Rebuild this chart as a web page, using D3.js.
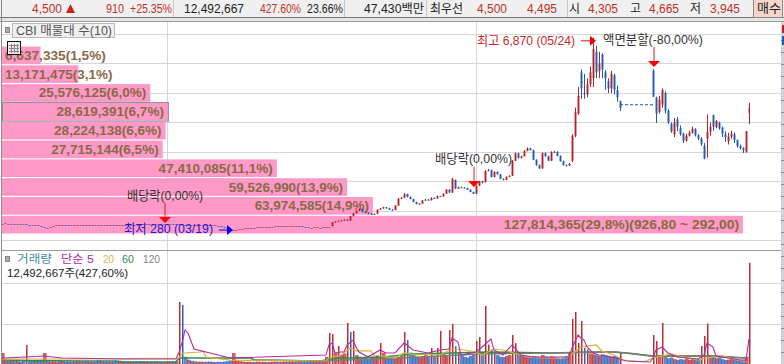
<!DOCTYPE html>
<html>
<head>
<meta charset="utf-8">
<script src="https://cdn.jsdelivr.net/npm/d3@7"></script>
<style>
  html, body { margin: 0; padding: 0; background: #fff; overflow: hidden; }
  text { font-family: "Liberation Sans", "Noto Sans CJK KR", sans-serif; font-size: 12.5px; }
</style>
</head>
<body>
<div id="chart"></div>
<script>
// bar data, one slot every bar, nulls where trading was halted for the split
const barOpen = [
  565,570,575,565,570,560,565,555,545,540, 530,525,530,510,480,440,420,450,490,530,
  525,535,530,525,530,520,530,535,525,530, 525,535,530,520,530,525,515,525,520,515,
  525,530,510,520,530,525,535,530,545,550, 540,545,540,550,535,540,545,560,550,555,
  545,540,530,535,525,530,520,525,535,530, 520,525,515,490,470,450,430,390,340,345,
  370,390,410,420,430,425,440,445,450,445, 460,465,475,470,480,490,480,495,500,490,
  495,480,460,445,430,435,440,430,440,445, 480,610,640,660,680,700,670,820,920,1000,
  1060,960,930,900,880,900,1040,1080,1120,1090, 1040,1030,1180,1410,1440,1570,1470,1400,1300,1230,
  1240,1350,1380,1360,1440,1420,1500,1490,1580,1720, 1620,2050,1750,1800,1790,1770,1720,1640,1580,1850,
  2000,1980,2350,2380,2150,2320,2240,2080,2050,2150, 2190,2700,2950,2790,2850,3030,3120,3060,2730,2550,
  2440,2960,2850,2700,3000,3000,2860,2680,2550,2530, 2700,3550,4300,5700,5000,4950,5300,5500,6400,5750,
  6300,5700,5400,5150,5600,5100,4730,null,null,null, null,null,null,null,null,null,null,5750,4850,4350,
  4600,5000,4400,3950,3600,4100,3800,3620,3380,3550, 3650,3780,3560,3450,3210,3445,3680,4250,3850,4000,
  3820,3600,3360,3520,3600,3400,3200,3130,3000,4305
];
const barClose = [
  570,575,565,570,560,565,555,545,540,530, 525,530,510,480,440,420,450,490,530,525,
  535,530,525,530,520,530,535,525,530,525, 535,530,520,530,525,515,525,520,515,525,
  530,510,520,530,525,535,530,545,550,540, 545,540,550,535,540,545,560,550,555,545,
  540,530,535,525,530,520,525,535,530,520, 525,515,490,470,450,430,390,340,345,370,
  390,410,420,430,425,440,445,450,445,460, 465,475,470,480,490,480,495,500,490,495,
  480,460,445,430,435,440,430,440,445,455, 610,640,660,680,700,670,820,920,1000,1060,
  960,930,900,880,900,1040,1080,1120,1090,1040, 1030,1180,1410,1440,1570,1470,1400,1300,1230,1240,
  1350,1380,1360,1440,1420,1500,1490,1580,1720,1620, 2080,1750,1800,1790,1770,1720,1640,1580,1850,2000,
  1950,2350,2380,2150,2320,2240,2080,2050,2150,2190, 2700,2950,2790,2850,3030,3120,3060,2730,2550,2440,
  2960,2850,2700,3000,3000,2860,2680,2550,2530,2600, 3550,4350,4900,5150,4950,5300,5700,6500,5700,6000,
  5800,5500,5150,5650,5100,4850,4500,null,null,null, null,null,null,null,null,null,null,4870,4300,4780,
  5100,4400,4000,3700,4000,3850,3600,3380,3550,3650, 3780,3560,3450,3280,2770,3680,3850,3850,4050,3800,
  3620,3500,3520,3620,3400,3200,3130,3050,3700,4500
];
const barHigh = [
  580,585,585,580,580,575,575,565,555,545, 540,540,535,515,485,445,455,495,535,535,
  545,540,535,535,535,535,540,540,535,535, 540,540,535,535,535,530,530,530,525,530,
  535,535,525,535,535,540,540,550,555,555, 550,550,555,555,545,550,565,565,560,560,
  550,545,540,540,535,535,530,540,540,535, 530,530,520,495,475,455,435,395,350,375,
  395,415,425,435,435,445,450,455,455,465, 470,480,480,485,495,495,500,505,505,500,
  500,485,465,450,440,445,445,445,450,460, 620,650,670,690,710,710,830,930,1020,1080,
  1070,980,950,920,910,1050,1100,1140,1130,1100, 1060,1200,1440,1470,1600,1580,1490,1410,1310,1260,
  1370,1400,1400,1460,1450,1520,1510,1600,1740,1730, 2120,2060,1820,1820,1800,1780,1730,1650,1870,2020,
  2020,2380,2420,2400,2340,2340,2250,2100,2170,2210, 2720,2980,2970,2870,3060,3150,3140,3070,2750,2570,
  2980,2980,2870,3020,3040,3020,2880,2700,2570,2620, 3600,4500,5200,5800,5650,5500,5900,6870,6600,6400,
  6350,5780,5500,5750,5650,5250,4730,null,null,null, null,null,null,null,null,null,null,5820,4870,4900,
  5150,5050,4450,4000,4150,4180,3900,3650,3620,3720, 3860,3800,3600,3500,3300,4280,4000,4260,4080,4020,
  3860,3700,3650,3720,3660,3420,3250,3160,3716,4665
];
const barLow = [
  555,560,555,560,550,555,550,540,535,525, 520,520,505,475,435,410,415,445,485,520,
  520,525,520,520,515,515,525,520,520,520, 520,525,515,515,520,510,510,515,510,510,
  520,505,505,515,520,520,525,525,540,535, 535,535,535,530,530,535,540,545,545,540,
  535,525,525,520,520,515,515,520,525,515, 515,510,485,465,445,425,385,280,335,340,
  365,385,405,415,420,420,435,440,440,440, 455,460,465,465,475,475,475,490,485,485,
  475,455,440,425,425,430,425,425,435,440, 475,600,630,650,670,660,660,810,910,990,
  950,920,890,870,870,890,1030,1070,1080,1030, 1020,1020,1170,1400,1430,1460,1390,1290,1220,1220,
  1230,1340,1350,1350,1410,1410,1480,1480,1570,1610, 1600,1740,1740,1780,1760,1710,1630,1570,1570,1840,
  1930,1960,2340,2130,2140,2230,2070,2030,2040,2140, 2180,2690,2780,2780,2840,3020,3050,2720,2530,2420,
  2430,2840,2690,2690,2980,2850,2670,2540,2510,2520, 2650,3500,4250,4800,4800,4850,5200,5200,5500,5500,
  5500,5100,5000,5000,4950,4700,4390,null,null,null, null,null,null,null,null,null,null,4870,3980,4300,
  4500,4300,3950,3650,3500,3700,3550,3300,3350,3520, 3620,3520,3400,3200,2750,2800,3550,3720,3800,3750,
  3500,3340,3250,3450,3300,3150,3080,2960,2970,3945
];
// volume in thousands of shares
const barVolume = [
  1360,420,380,500,350,420,300,380,2350,400, 450,380,420,520,1360,400,300,350,280,420,
  350,280,300,260,320,380,300,280,340,300, 260,300,420,350,300,280,260,320,380,300,
  280,250,330,300,260,280,340,300,260,240, 260,280,240,220,250,260,280,300,350,7660,
  7290,900,520,400,320,280,300,260,280,300, 260,240,280,260,300,350,420,1360,450,350,
  300,260,280,240,260,300,250,280,240,260, 280,300,260,240,280,250,300,260,280,320,
  280,260,300,340,320,380,420,500,900,3830, 3700,1400,2220,1100,1300,5060,3950,4080,1100,900,
  700,850,600,750,900,1000,2590,1400,800,700, 850,750,900,1000,3950,2960,1400,1100,900,800,
  950,1100,850,1980,1000,1980,4080,1300,1100,4200, 4940,2200,1500,1100,900,800,1000,1200,2840,3330,
  1300,7160,2400,1800,1500,1100,900,850,1000,1100, 3580,2590,1400,1100,950,850,800,1000,900,850,
  1100,900,800,950,850,700,650,800,1000,1400, 5560,6420,2600,5310,2000,1800,1300,1200,1100,1000,
  1200,1100,1000,900,1000,850,1480,0,0,0, 0,0,0,0,0,0,0,3580,2840,1000,
  5060,900,700,800,600,500,600,550,700,500, 600,500,650,2220,3460,5000,1100,900,700,800,
  600,500,550,600,500,450,520,480,900,12493
];
// volume spikes whose colour reads differently from the candle above them
const volumeRedBars = [0,8,14,59,77,109,112,115,117,126,134,143,145,146,149,150,158,159,161,170,171,190,191,193,206,217,218,220,233,234,235,249];
const volumeBlueBars = [60,116,135];

// moving averages, read at their turning points
const ma5Bars = [0,8,14,20,40,58,59,60,61,62,64,76,108,109,110,111,113,114,115,117,118,119,122,126,128,131,134,135,137,142,146,149,150,152,153,158,160,163,164,167,170,173,177,185,189,190,192,193,194,195,197,199,205,208,216,217,218,220,222,225,232,234,235,237,238,246,248,249];
const ma5Vals = [740,860,990,740,620,620,1480,2590,4200,3830,1850,740,1110,2350,2590,1360,1480,1480,2350,2960,2100,1480,860,1730,1360,1360,2590,2350,1730,1360,1730,1850,3210,2720,1110,1480,2100,3090,1730,1110,2350,1110,860,860,860,1980,3580,3210,2960,2100,1360,1110,740,370,250,740,1730,2100,1360,860,620,1110,2590,2100,990,490,490,3090];
const ma20Bars = [0,26,59,60,61,66,67,68,76,108,109,113,116,118,123,124,131,134,138,142,146,150,154,158,160,164,167,173,178,188,190,193,198,200,204,207,214,217,220,223,226,232,235,240,244,248];
const ma20Vals = [620,620,740,1235,1360,1480,1610,860,490,370,740,1110,1980,1610,1610,1110,740,1360,1110,1235,1110,1850,1730,1480,1110,1850,1730,1110,740,740,1235,2100,2350,1610,1110,490,250,740,990,1235,990,490,740,990,620,250];
const ma60Bars = [0,8,26,38,41,58,59,83,84,106,112,116,127,137,150,162,183,196,203,210,217,233,238,245,248];
const ma60Vals = [490,430,370,370,250,250,740,740,490,370,740,740,860,1235,1360,1480,1360,1480,1480,1300,990,990,990,800,740];
const ma120Bars = [83,106,133,159,183,205,216,233,248];
const ma120Vals = [490,370,740,1235,1360,1480,990,990,740];

// volume profile rows, bottom row first
const profileVolume = [127814365, 63974585, 59526990, 47410085, 27715144, 28224138, 28619391, 25576125, 13171475, 6637335];
const profileLabels = ["127,814,365(29,8%)(926,80 ~ 292,00)", "63,974,585(14,9%)", "59,526,990(13,9%)", "47,410,085(11,1%)", "27,715,144(6,5%)", "28,224,138(6,6%)", "28,619,391(6,7%)", "25,576,125(6,0%)", "13,171,475(3,1%)", "6,637,335(1,5%)"];
const selectedRow = 6;

const priceTicks = [1000, 2000, 3000, 4000, 5000, 6000, 7000];
const volumeTicks = [5000, 10000];
const gridBars = [55, 158];
const splitPrice = 4600;
const highPrice = 6870;
const lowPrice = 280;

const red = "#b5242a";
const blue = "#1f5ab5";
const grid = "#d6d6d6";

const svg = d3.select("#chart").append("svg")
  .attr("width", 784)
  .attr("height", 364)
  .style("display", "block");

const x = d3.scaleLinear().domain([0, 249]).range([2, 749]);
const yPrice = d3.scaleLinear().domain([0, 7000]).range([240.3, 34]);
const yVolume = d3.scaleLinear().domain([0, 15000]).range([364, 242.5]);
const xProfile = d3.scaleLinear().domain([0, d3.max(profileVolume)]).range([2, 743]);
const rowBand = d3.scaleBand().domain(d3.range(10)).range([233.5, 46.5]).paddingInner(0.06);

function label(g, px, py, str, color, width, opts) {
  opts = opts || {};
  const t = g.append("text")
    .attr("x", px)
    .attr("y", py)
    .attr("fill", color)
    .attr("text-anchor", opts.anchor || "start")
    .style("font-size", (opts.size || 12.5) + "px")
    .style("font-weight", opts.bold ? "bold" : "normal")
    .text(str);
  if (width) t.attr("textLength", width).attr("lengthAdjust", "spacingAndGlyphs");
  return t;
}

// grid
const gridG = svg.append("g");
gridG.selectAll(".h").data(priceTicks.concat([0])).enter().append("line")
  .attr("x1", 2).attr("x2", 781)
  .attr("y1", d => Math.round(yPrice(d)) + 0.5)
  .attr("y2", d => Math.round(yPrice(d)) + 0.5)
  .attr("stroke", grid);
gridG.selectAll(".v").data(volumeTicks).enter().append("line")
  .attr("x1", 2).attr("x2", 781)
  .attr("y1", d => Math.round(yVolume(d)) + 0.5)
  .attr("y2", d => Math.round(yVolume(d)) + 0.5)
  .attr("stroke", grid);
gridG.selectAll(".b").data(gridBars).enter().append("line")
  .attr("x1", d => Math.round(x(d)) + 0.5)
  .attr("x2", d => Math.round(x(d)) + 0.5)
  .attr("y1", 22).attr("y2", 364)
  .attr("stroke", grid);

// volume profile
svg.append("g").selectAll("rect").data(profileVolume).enter().append("rect")
  .attr("x", 2)
  .attr("y", (d, i) => rowBand(i))
  .attr("width", d => xProfile(d) - 2)
  .attr("height", rowBand.bandwidth())
  .attr("fill", "#fe99c8");
const sel = profileVolume[selectedRow];
svg.append("rect")
  .attr("x", 2.5)
  .attr("y", rowBand(selectedRow) - 0.5)
  .attr("width", xProfile(sel) - 2)
  .attr("height", rowBand.bandwidth() + 1)
  .attr("fill", "none")
  .attr("stroke", "#8c8c8c");

const profG = svg.append("g");
profileVolume.forEach((d, i) => {
  const w = profileLabels[i].length * 6.72;
  const end = xProfile(d) - 4;
  const start = Math.max(5, end - w);
  label(profG, start, rowBand(i) + rowBand.bandwidth() / 2 + 4.5, profileLabels[i], "#8a6a44", w, { bold: true, size: 13 });
});

// candles
const bars = d3.range(barClose.length).filter(i => barClose[i] !== null);
const barColor = i => barClose[i] >= barOpen[i] ? red : blue;
const candles = svg.append("g");
candles.selectAll(".wick").data(bars.filter(i => i >= 110)).enter().append("line")
  .attr("x1", i => x(i) + 0.5).attr("x2", i => x(i) + 0.5)
  .attr("y1", i => yPrice(barHigh[i]))
  .attr("y2", i => yPrice(barLow[i]))
  .attr("stroke", barColor);
candles.selectAll(".body").data(bars).enter().append("rect")
  .attr("x", i => x(i) - 0.5)
  .attr("width", i => i === 249 ? 1 : 2)
  .attr("y", i => i < 110 ? Math.round(yPrice(barClose[i])) : yPrice(Math.max(barOpen[i], barClose[i])))
  .attr("height", i => i < 110 ? 1 : Math.max(1, Math.abs(yPrice(barOpen[i]) - yPrice(barClose[i]))))
  .attr("fill", i => i < 110 && barClose[i] >= barOpen[i] ? "#b03040" : barColor(i))
  .attr("fill-opacity", i => i < 110 ? 0.8 : 0.9);

// split gap
candles.append("line")
  .attr("x1", x(206)).attr("x2", x(217))
  .attr("y1", yPrice(splitPrice)).attr("y2", yPrice(splitPrice))
  .attr("stroke", blue)
  .attr("stroke-dasharray", "3,2");

// annotations
function downArrow(g, px, yTop, yTip) {
  g.append("line").attr("x1", px).attr("x2", px).attr("y1", yTop).attr("y2", yTip - 5).attr("stroke", "#d02020");
  g.append("path").attr("d", d3.line()([[px - 6, yTip - 6], [px + 6, yTip - 6], [px, yTip]])).attr("fill", "#f00");
}
function rightArrow(g, x0, x1, py, color) {
  g.append("line").attr("x1", x0).attr("x2", x1 - 5).attr("y1", py).attr("y2", py).attr("stroke", color);
  g.append("path").attr("d", d3.line()([[x1 - 6, py - 5], [x1 - 6, py + 5], [x1, py]])).attr("fill", color);
}
const ann = svg.append("g");
label(ann, 477, yPrice(highPrice) + 7, "최고 6,870 (05/24)", "#c82828", 98, { size: 13 });
rightArrow(ann, 581, x(197) + 3, yPrice(highPrice) + 3, "#f00000");
label(ann, 603, 44, "액면분할(-80,00%)", "#333", 100, { size: 13 });
downArrow(ann, x(217) + 1, 47, 67);
label(ann, 127, 199.5, "배당락(0,00%)", "#333", 76, { size: 13 });
downArrow(ann, x(54) + 1, 203, 223);
label(ann, 435, 163, "배당락(0,00%)", "#333", 77, { size: 13 });
downArrow(ann, x(157) + 1, 167, 187);
label(ann, 124, 233, "최저 280 (03/19)", "#1a1ad0", 89, { size: 13 });
rightArrow(ann, 219, x(77), yPrice(lowPrice) - 2, "#0000f0");

// volume bars, spikes last so they stay on top
const volColor = i => volumeRedBars.includes(i) ? red : volumeBlueBars.includes(i) ? blue : barColor(i);
const volBars = d3.range(barVolume.length).filter(i => barVolume[i] > 0)
  .sort((a, b) => d3.ascending(barVolume[a] > 1400, barVolume[b] > 1400));
svg.append("g").selectAll("rect").data(volBars).enter().append("rect")
  .attr("x", i => barVolume[i] > 1400 ? x(i) : x(i) - 1)
  .attr("width", i => barVolume[i] > 1400 ? 1.5 : 3.6)
  .attr("y", i => yVolume(barVolume[i]))
  .attr("height", i => 364 - yVolume(barVolume[i]))
  .attr("fill", volColor)
  .attr("fill-opacity", i => barVolume[i] > 1400 ? 0.95 : 0.72);

// moving averages
const maLine = d3.line().x(d => x(d[0])).y(d => yVolume(d[1]));
const maSeries = [
  { bars: ma60Bars, vals: ma60Vals, color: "#2e8b57", w: 1.6 },
  { bars: ma120Bars, vals: ma120Vals, color: "#7d7d70", w: 1.4 },
  { bars: ma20Bars, vals: ma20Vals, color: "#dcb030", w: 1.2 },
  { bars: ma5Bars, vals: ma5Vals, color: "#b52aa5", w: 1.1 }
];
svg.append("g").selectAll("path").data(maSeries).enter().append("path")
  .attr("d", d => maLine(d3.zip(d.bars, d.vals)))
  .attr("fill", "none")
  .attr("stroke", d => d.color)
  .attr("stroke-width", d => d.w);

// panel frame
svg.append("rect").attr("x", 0).attr("y", 0).attr("width", 784).attr("height", 17).attr("fill", "#f0f0f0");
svg.append("rect").attr("x", 0).attr("y", 17).attr("width", 784).attr("height", 5).attr("fill", "#e6e6e6");
svg.append("line").attr("x1", 0).attr("x2", 784).attr("y1", 17.5).attr("y2", 17.5).attr("stroke", "#777");
svg.append("line").attr("x1", 0).attr("x2", 784).attr("y1", 21.5).attr("y2", 21.5).attr("stroke", "#999");
svg.append("line").attr("x1", 1.5).attr("x2", 1.5).attr("y1", 0).attr("y2", 364).attr("stroke", "#8c8c8c");
svg.append("line").attr("x1", 2).attr("x2", 781).attr("y1", 250.5).attr("y2", 250.5).attr("stroke", "#9c9c9c");
svg.append("rect").attr("x", 781).attr("y", 22).attr("width", 3).attr("height", 342).attr("fill", "#cfd3da");
svg.append("g").selectAll("line").data(d3.range(40, 364, 12)).enter().append("line")
  .attr("x1", 781).attr("x2", 784)
  .attr("y1", d => d + 0.5).attr("y2", d => d + 0.5)
  .attr("stroke", "#8c8c96");
svg.append("rect").attr("x", 782).attr("y", 25).attr("width", 2).attr("height", 8).attr("fill", red);
svg.append("rect").attr("x", 782).attr("y", 36).attr("width", 2).attr("height", 9).attr("fill", blue);

// header
const head = svg.append("g");
[173, 344, 426, 567].forEach(px => {
  head.append("line").attr("x1", px + 0.5).attr("x2", px + 0.5).attr("y1", 0).attr("y2", 17).attr("stroke", "#c8c8c8");
});
head.append("rect").attr("x", 753.5).attr("y", -1).attr("width", 29).attr("height", 18.5).attr("fill", "#f6d6cc").attr("stroke", "#888");
const hr = "#c0302c", hk = "#222";
label(head, 32, 13, "4,500", hr, 30);
head.append("path").attr("d", d3.line()([[66, 13], [75, 13], [70.5, 4]])).attr("fill", "#d02018");
label(head, 106, 13, "910", hr, 18);
label(head, 130, 13, "+25.35%", hr, 42);
label(head, 184, 13, "12,492,667", hk, 60);
label(head, 260, 13, "427.60%", hr, 41);
label(head, 307, 13, "23.66%", hk, 36);
label(head, 364, 13, "47,430백만", hk, 60);
label(head, 430, 13, "최우선", hk, 33);
label(head, 477, 13, "4,500", hr, 30);
label(head, 527, 13, "4,495", hr, 30);
label(head, 569, 13, "시", hk, 11);
label(head, 588, 13, "4,305", hr, 30);
label(head, 630, 13, "고", hk, 11);
label(head, 649, 13, "4,665", hr, 30);
label(head, 690, 13, "저", hk, 11);
label(head, 710, 13, "3,945", hr, 30);
label(head, 757, 13, "매수", hk, 24);

// panel legends
const leg = svg.append("g");
leg.append("rect").attr("x", 5.5).attr("y", 27.5).attr("width", 4).attr("height", 5).attr("fill", "#aaa").attr("stroke", "#888");
leg.append("rect").attr("x", 12.5).attr("y", 23.5).attr("width", 102).attr("height", 14).attr("fill", "#f0f0f0").attr("stroke", "#b8b8b8");
label(leg, 16, 34.5, "CBI 매물대 수(10)", "#555", 96);
leg.append("rect").attr("x", 7.5).attr("y", 41.5).attr("width", 13).attr("height", 13).attr("fill", "#eee").attr("stroke", "#111");
[45.5, 48.5, 51.5].forEach(py => leg.append("line").attr("x1", 9).attr("x2", 19).attr("y1", py).attr("y2", py).attr("stroke", "#888"));
[11.5, 14.5, 17.5].forEach(px => leg.append("line").attr("x1", px).attr("x2", px).attr("y1", 44).attr("y2", 53).attr("stroke", "#888"));
leg.append("rect").attr("x", 5.5).attr("y", 256.5).attr("width", 4).attr("height", 5).attr("fill", "#aaa").attr("stroke", "#888");
label(leg, 17, 263, "거래량", "#3f8f96", 35, { size: 11.5 });
label(leg, 61, 263, "단순 5", "#b52aa5", 33, { size: 11.5 });
label(leg, 103, 263, "20", "#dcb43c", 11, { size: 11.5 });
label(leg, 122, 263, "60", "#2e8b57", 12, { size: 11.5 });
label(leg, 143, 263, "120", "#808080", 17, { size: 11.5 });
label(leg, 7, 276.5, "12,492,667주(427,60%)", "#222", 121, { size: 11.5 });
</script>
</body>
</html>
